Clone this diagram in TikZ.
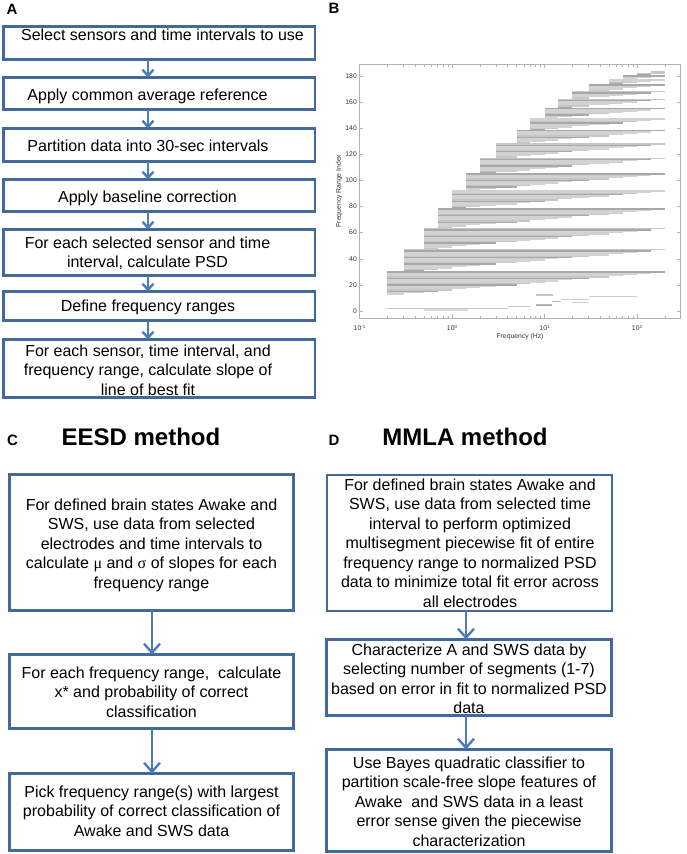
\documentclass[tikz,border=0pt]{standalone}
\usepackage{fontspec}
\setmainfont{Liberation Sans}
\newfontfamily\symf{Liberation Serif}
\usetikzlibrary{arrows.meta}
\definecolor{boxc}{RGB}{65,105,156}
\definecolor{arrc}{RGB}{74,125,186}
\begin{document}
\begin{tikzpicture}[x=1pt,y=-1pt,
  box/.style={draw=boxc, line width=2.7pt, inner sep=0pt, outer sep=0pt, rectangle},
  txt/.style={font=\fontsize{16}{19.5}\selectfont, align=center, inner sep=0pt, anchor=north},
  arrA/.style={draw=arrc, line width=2.4pt, -{Straight Barb[length=6pt,width=11pt]}},
  arrC/.style={draw=arrc, line width=2.4pt, -{Straight Barb[length=9pt,width=16pt]}},
  plab/.style={font=\bfseries\fontsize{15}{17}\selectfont, inner sep=0pt},
  ttl/.style={font=\bfseries\fontsize{24}{28}\selectfont, inner sep=0pt, anchor=base},
  tick/.style={draw=gray!60, line width=0.5pt},
  tlab/.style={font=\fontsize{6.8}{7.5}\selectfont, text=black!80, inner sep=0pt}
]
\useasboundingbox (0,0) rectangle (686,854);

% ---------- Panel labels ----------
\node[plab] (lA) at (12,9) {A};
\node[plab] (lB) at (334,8) {B};
\node[plab] (lC) at (12.5,440) {C};
\node[plab] (lD) at (334,440) {D};

% ---------- Panel A ----------
\coordinate (ax) at (148,0);
\node[box, minimum width=311.5, minimum height=33] (a1) at (159.25,43) {};
\node[box, minimum width=311.5, minimum height=32] (a2) at (159.25,93.5) {};
\node[box, minimum width=311.5, minimum height=33] (a3) at (159.25,145) {};
\node[box, minimum width=311.5, minimum height=32] (a4) at (159.25,195.5) {};
\node[box, minimum width=311.5, minimum height=46] (a5) at (159.25,252.5) {};
\node[box, minimum width=311.5, minimum height=29] (a6) at (159.25,306) {};
\node[box, minimum width=311.5, minimum height=58] (a7) at (159.25,368.5) {};

\node[txt] (ta1) at (162.5,28.4) {Select sensors and time intervals to use};
\node[txt] (ta2) at (147.5,88.4) {Apply common average reference};
\node[txt] (ta3) at (148,139.4) {Partition data into 30-sec intervals};
\node[txt] (ta4) at (147.5,190.4) {Apply baseline correction};
\node[txt] (ta5) at (147.5,236.4) {For each selected sensor and time\\interval, calculate PSD};
\node[txt] (ta6) at (148,300.1) {Define frequency ranges};
\node[txt] (ta7) at (148,344.4) {For each sensor, time interval, and\\frequency range, calculate slope of\\line of best fit};

\foreach \p/\q in {a1/a2,a2/a3,a3/a4,a4/a5,a5/a6,a6/a7}{
  \draw[arrA] (\p.south -| ax) -- (\q.north -| ax);
}

% ---------- Panel B (plot) ----------
\def\Flist{{0.2,0.3,0.5,0.7,1,1.4,2,3,5,7,10,14,20,30,50,70,100,140,200}}
\foreach \i in {0,...,17}{
  \pgfmathtruncatemacro\jst{\i+1}
  \foreach \j in {\jst,...,18}{
    \pgfmathsetmacro\fa{\Flist[\i]}
    \pgfmathsetmacro\fb{\Flist[\j]}
    \pgfmathsetmacro\xa{359.5+92.5*(ln(\fa)/ln(10)+1)}
    \pgfmathsetmacro\xb{359.5+92.5*(ln(\fb)/ln(10)+1)}
    \pgfmathtruncatemacro\k{12+18*\i-\i*(\i-1)/2+\j-\i}
    \pgfmathsetmacro\yk{311-1.306*\k}
    \pgfmathtruncatemacro\sh{mod(\k*7+\i*3,5)}
    \ifnum\sh=0 \def\bc{gray!68}\else\ifnum\sh=2 \def\bc{gray!45}\else\def\bc{gray!35}\fi\fi
    \fill[\bc] (\xa,\yk-0.68) rectangle (\xb,\yk+0.68);
  }
}
% low-index ranges
\foreach \v/\fa/\fb/\c/\h in {0.8/0.5/1.5/30/1.2, 2/0.2/4/45/0.6, 3.3/4/7/45/0.6, 4.3/8/12/70/0.8, 5.2/8/12/55/0.6, 7.2/12/15/55/0.6, 6.6/20/30/40/0.6, 8.8/15/30/40/0.6, 11/30/100/40/0.6, 12.2/8/12.5/45/0.6}{
  \pgfmathsetmacro\xa{359.5+92.5*(ln(\fa)/ln(10)+1)}
  \pgfmathsetmacro\xb{359.5+92.5*(ln(\fb)/ln(10)+1)}
  \pgfmathsetmacro\yk{311-1.306*\v}
  \fill[gray!\c] (\xa,\yk-\h) rectangle (\xb,\yk+\h);
}
% frame
\draw[gray!60, line width=0.6pt] (359.5,64) rectangle (680,318);
% y ticks and labels
\foreach \v in {0,20,...,180}{
  \pgfmathsetmacro\yy{311-1.306*\v}
  \draw[tick] (359.5,\yy) -- ++(3,0);
  \draw[tick] (680,\yy) -- ++(-3,0);
  \node[tlab, anchor=east] (yl\v) at (357,\yy) {\v};
}
% x ticks
\foreach \d in {-1,0,1,2}{
  \foreach \m in {1,...,9}{
    \pgfmathsetmacro\xx{359.5+92.5*(\d+ln(\m)/ln(10)+1)}
    \pgfmathsetmacro\len{ifthenelse(\m==1,4,2.5)}
    \ifdim\xx pt<680pt
      \draw[tick] (\xx,318) -- ++(0,-\len);
      \draw[tick] (\xx,64) -- ++(0,\len);
    \fi
  }
  \pgfmathsetmacro\xd{359.5+92.5*(\d+1)}
  \node[tlab] (xl\d) at (\xd,327.5) {10\raisebox{0.55ex}{\fontsize{4.5}{5}\selectfont\d}};
}
\node[tlab] (xlab) at (520,337) {Frequency (Hz)};
\node[tlab, rotate=90] (ylab) at (339,191) {Frequency Range Index};

% ---------- Panel C ----------
\node[ttl] (tC) at (141,445) {EESD method};
\coordinate (cx) at (152,0);
\node[box, minimum width=284, minimum height=136] (c1) at (151.5,542.5) {};
\node[box, minimum width=284, minimum height=74] (c2) at (151.5,691.5) {};
\node[box, minimum width=284, minimum height=77] (c3) at (151.5,812) {};
\node[txt] (tc1) at (151.5,498.4) {For defined brain states Awake and\\SWS, use data from selected\\electrodes and time intervals to\\calculate {\symf μ} and {\symf σ} of slopes for each\\frequency range};
\node[txt] (tc2) at (151.5,666.4) {For each frequency range,\ \ calculate\\x* and probability of correct\\classification};
\node[txt] (tc3) at (151.5,785.4) {Pick frequency range(s) with largest\\probability of correct classification of\\Awake and SWS data};
\draw[arrC] (c1.south -| cx) -- (c2.north -| cx);
\draw[arrC] (c2.south -| cx) -- (c3.north -| cx);

% ---------- Panel D ----------
\node[ttl] (tD) at (465,445) {MMLA method};
\coordinate (dx) at (466,0);
\node[box, line width=2pt, minimum width=285, minimum height=136] (d1) at (469,542.5) {};
\node[box, minimum width=285, minimum height=76] (d2) at (469,677.5) {};
\node[box, minimum width=285, minimum height=102] (d3) at (469,800.5) {};
\node[txt] (td1) at (470,478.4) {For defined brain states Awake and\\SWS, use data from selected time\\interval to perform optimized\\multisegment piecewise fit of entire\\frequency range to normalized PSD\\data to minimize total fit error across\\all electrodes};
\node[txt] (td2) at (469,643.4) {Characterize A and SWS data by\\selecting number of segments (1-7)\\based on error in fit to normalized PSD\\data};
\node[txt] (td3) at (469,756.4) {Use Bayes quadratic classifier to\\partition scale-free slope features of\\Awake\ \ and SWS data in a least\\error sense given the piecewise\\characterization};
\draw[arrC] (d1.south -| dx) -- (d2.north -| dx);
\draw[arrC] (d2.south -| dx) -- (d3.north -| dx);
\end{tikzpicture}
\end{document}
